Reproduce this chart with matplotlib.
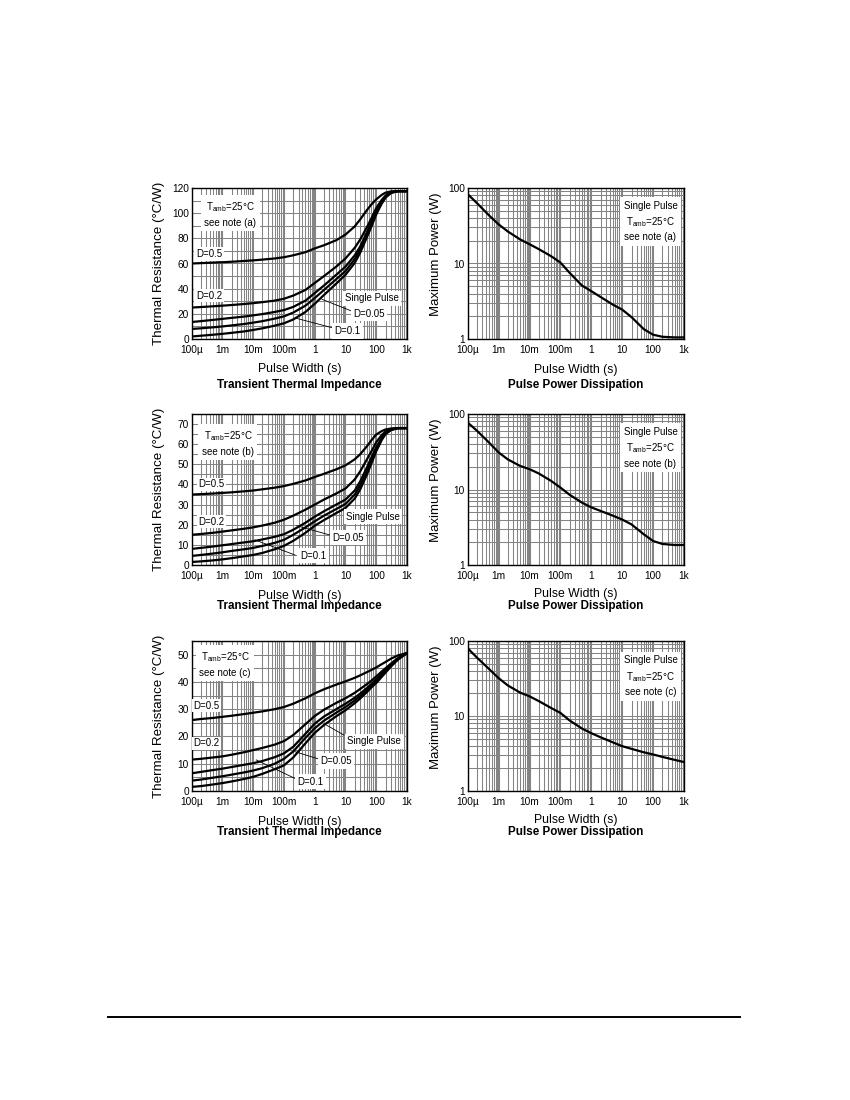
import matplotlib
matplotlib.use("Agg")
import matplotlib.pyplot as plt
from matplotlib.ticker import LogLocator, MultipleLocator, FixedLocator, NullFormatter
from matplotlib.lines import Line2D

plt.rcParams['font.family'] = ['Liberation Sans', 'DejaVu Sans']
plt.rcParams['mathtext.fontset'] = 'custom'
plt.rcParams['mathtext.rm'] = 'Liberation Sans'
plt.rcParams['mathtext.it'] = 'Liberation Sans'

# ---------------- data ----------------
x_tick_vals = [1e-4, 1e-3, 1e-2, 1e-1, 1, 10, 100, 1000]
x_tick_labels = ["100µ", "1m", "10m", "100m", "1", "10", "100", "1k"]

# Transient thermal impedance (pulse width in seconds)
zth_x = [1e-4, 2e-4, 5e-4, 1e-3, 2e-3, 5e-3, 1e-2, 2e-2, 5e-2, 0.1, 0.2, 0.5, 1, 2, 5,
         10, 20, 30, 50, 70, 100, 150, 200, 300, 500, 1000]
duty_labels = ["D=0.5", "D=0.2", "D=0.1", "D=0.05", "Single Pulse"]

zth_a_d05 = [60, 60.3, 60.7, 61, 61.4, 62, 62.5, 63.1, 64, 65, 66.5, 69, 72, 74.5, 78.5,
             83, 89.5, 95, 102.5, 107, 111, 114.5, 116.3, 117.3, 117.5, 117.5]
zth_a_d02 = [25, 25.4, 26, 26.5, 27, 27.8, 28.5, 29.3, 30.5, 32, 34.5, 39, 44.5, 50, 57.5,
             64, 72.5, 79, 89, 96, 104, 110.5, 114, 116.8, 117.5, 117.5]
zth_a_d01 = [13.5, 14.2, 15.2, 16, 16.8, 17.8, 18.8, 19.8, 21.5, 23, 25.5, 30.5, 36.5, 42.5, 51,
             57.5, 66.5, 73.5, 85, 93, 102, 109, 113.3, 116.5, 117.5, 117.5]
zth_a_d005 = [8, 8.5, 9.3, 10, 10.8, 11.9, 13, 14.2, 16.2, 18, 21, 26.5, 32.5, 39, 47.5,
              54, 63.5, 71, 83, 91.5, 100.5, 108.3, 112.8, 116.3, 117.5, 117.5]
zth_a_sp = [2, 2.6, 3.4, 4.1, 4.9, 6, 7.2, 8.5, 10.6, 12.5, 15.5, 21.5, 28, 35, 44,
            51, 60.5, 68.5, 81, 89.5, 99, 107.5, 112.3, 116, 117.5, 117.5]

zth_b_d05 = [35, 35.2, 35.5, 35.8, 36.1, 36.6, 37, 37.6, 38.4, 39.2, 40.3, 42, 43.7, 45.3, 47.5,
             49.5, 52.5, 55, 59, 62, 64.8, 66.5, 67.3, 67.8, 68, 68]
zth_b_d02 = [15, 15.4, 16, 16.6, 17.2, 18, 18.7, 19.6, 21, 22.5, 24.5, 27.5, 30, 32.5, 35.5,
             38, 42.5, 46.5, 52.5, 56.5, 61, 64.5, 66.3, 67.5, 68, 68]
zth_b_d01 = [8, 8.5, 9.2, 9.8, 10.4, 11.2, 11.8, 12.7, 14, 15.3, 17.5, 21, 24, 26.7, 30,
             32.5, 37, 41.5, 48.5, 53.5, 58.5, 63, 65.5, 67.2, 68, 68]
zth_b_d005 = [4.5, 5, 5.7, 6.3, 7, 7.8, 8.5, 9.5, 11, 12.5, 15, 18.7, 21.7, 24.5, 27.8,
              30.3, 35, 39.5, 46.5, 52, 57.5, 62.5, 65.2, 67.1, 68, 68]
zth_b_sp = [1.5, 1.8, 2.3, 2.8, 3.4, 4.3, 5, 6, 7.8, 9.5, 12, 16, 19.5, 22.3, 25.8,
            28.3, 33, 37.5, 45, 50.5, 56.5, 62, 65, 67, 68, 68]

zth_c_d05 = [26, 26.4, 26.8, 27.2, 27.6, 28.2, 28.7, 29.2, 30, 30.8, 32, 34, 35.8, 37.3, 39,
             40.2, 41.5, 42.4, 43.6, 44.4, 45.3, 46.5, 47.3, 48.5, 49.7, 50.6]
zth_c_d02 = [11.5, 11.8, 12.3, 12.7, 13.3, 14.2, 15, 15.8, 17, 18.3, 20.5, 24.5, 27.5, 29.8, 32.3,
             34, 36, 37.4, 39.2, 40.5, 42, 43.8, 45, 46.7, 48.7, 50.6]
zth_c_d01 = [6.5, 7, 7.7, 8.2, 8.8, 9.6, 10.2, 11, 12.4, 13.8, 16.2, 21, 24.7, 27.3, 30,
             32, 34.2, 35.7, 37.8, 39.3, 41, 43, 44.4, 46.3, 48.5, 50.6]
zth_c_d005 = [3.8, 4.2, 4.9, 5.4, 6, 6.8, 7.5, 8.4, 10, 11.8, 14.5, 19.5, 23, 25.8, 28.7,
              30.8, 33.2, 34.8, 37, 38.6, 40.3, 42.4, 44, 46, 48.3, 50.6]
zth_c_sp = [1.5, 1.8, 2.4, 2.9, 3.5, 4.4, 5.2, 6.3, 8, 9.4, 12.3, 17.5, 21.3, 24.2, 27.4,
            29.6, 32.2, 33.9, 36.3, 38, 39.6, 41.8, 43.4, 45.6, 48.1, 50.6]

# Pulse power dissipation
pwr_x = [1e-4, 2e-4, 5e-4, 1e-3, 2e-3, 5e-3, 1e-2, 2e-2, 5e-2, 0.1, 0.2, 0.5, 1, 2, 5,
         10, 20, 50, 100, 200, 500, 1000]
pwr_a = [83, 63, 43, 33, 26.5, 20.8, 18, 15.5, 12.5, 10.3, 7.5, 5.1, 4.3, 3.6, 2.85,
         2.45, 1.95, 1.35, 1.14, 1.07, 1.05, 1.05]
pwr_b = [77, 60, 41.5, 31, 25, 20.5, 18.6, 16.3, 13, 10.6, 8.5, 6.7, 5.8, 5.2, 4.5,
         4.0, 3.45, 2.55, 2.08, 1.9, 1.84, 1.84]
pwr_c = [80, 60, 42, 32, 25.5, 20.5, 18.3, 15.8, 12.8, 11, 8.7, 6.8, 5.9, 5.2, 4.45,
         3.96, 3.65, 3.28, 3.07, 2.85, 2.6, 2.43]

notes = ["a", "b", "c"]
zth_sets = [
    [zth_a_d05, zth_a_d02, zth_a_d01, zth_a_d005, zth_a_sp],
    [zth_b_d05, zth_b_d02, zth_b_d01, zth_b_d005, zth_b_sp],
    [zth_c_d05, zth_c_d02, zth_c_d01, zth_c_d005, zth_c_sp],
]
pwr_sets = [pwr_a, pwr_b, pwr_c]
zth_ylim = [120, 75, 55]
zth_yticks = [list(range(0, 121, 20)), list(range(0, 71, 10)), list(range(0, 51, 10))]
zth_yminor = [10, 5, 5]

# ---------------- layout ----------------
W, H = 850, 1100
fig = plt.figure(figsize=(8.5, 11), dpi=100)

rows = [  # (top px, bottom px)
    (188, 339),
    (414, 565),
    (641, 791),
]
left_x = (191.7, 407)
right_x = (467.7, 684)
xlabel_off = [-30, -31, -30.5]
xlabel_off_r = [-31, -29.5, -29.5]
title_off = [-46.5, -41.5, -40.5]

# label placement (axes fraction)
lbl = [
    dict(tamb=(0.18, 0.874, 0.781), d05=(0.019, 0.563), d02=(0.019, 0.287),
         sp=(0.836, 0.27), sp_lead=None,
         d005=(0.824, 0.166), d005_lead=((0.605, 0.263), (0.75, 0.181)),
         d01=(0.722, 0.053), d01_lead=((0.481, 0.139), (0.657, 0.073)),
         r=(0.845, 0.867, 0.788, 0.689)),
    dict(tamb=(0.168, 0.85, 0.762), d05=(0.031, 0.534), d02=(0.031, 0.287),
         sp=(0.842, 0.32), sp_lead=None,
         d005=(0.726, 0.181), d005_lead=((0.488, 0.26), (0.658, 0.192)),
         d01=(0.563, 0.062), d01_lead=((0.294, 0.166), (0.48, 0.066)),
         r=(0.845, 0.866, 0.788, 0.688)),
    dict(tamb=(0.155, 0.9, 0.795), d05=(0.008, 0.569), d02=(0.008, 0.318),
         sp=(0.847, 0.333), sp_lead=((0.619, 0.445), (0.707, 0.373)),
         d005=(0.67, 0.2), d005_lead=((0.48, 0.262), (0.604, 0.207)),
         d01=(0.55, 0.062), d01_lead=((0.3, 0.207), (0.478, 0.085)),
         r=(0.845, 0.854, 0.775, 0.675)),
]

GRID = '#848484'
white = dict(facecolor='white', edgecolor='none', pad=1.2)
TXT = 7.0
TICK = 7.3
tamb_txt = r"T$_{\mathregular{amb}}$=25°C"


def make_axes(xr, yr):
    x0, x1 = xr
    t, b = yr
    return fig.add_axes([x0 / W, 1 - b / H, (x1 - x0) / W, (b - t) / H])


def style_common(ax):
    ax.set_xscale('log')
    ax.set_xlim(1e-4, 1e3)
    ax.xaxis.set_major_locator(FixedLocator(x_tick_vals))
    ax.xaxis.set_minor_locator(LogLocator(base=10, subs=range(2, 10), numticks=20))
    ax.xaxis.set_minor_formatter(NullFormatter())
    ax.set_xticklabels(x_tick_labels)
    ax.tick_params(which='both', length=0, labelsize=TICK)
    ax.tick_params(axis='x', pad=4)
    ax.tick_params(axis='y', pad=2)
    ax.grid(axis='x', which='major', color=GRID, lw=1.5)
    ax.grid(axis='x', which='minor', color=GRID, lw=0.75)
    ax.grid(axis='y', which='both', color=GRID, lw=0.75)
    ax.set_axisbelow(True)
    for s in ax.spines.values():
        s.set_linewidth(1.0)
        s.set_color('black')
        s.set_zorder(5)


for i in range(3):
    top, bot = rows[i]
    hpx = bot - top
    L = lbl[i]

    # ---- left: transient thermal impedance ----
    ax = make_axes(left_x, rows[i])
    style_common(ax)
    ax.set_ylim(0, zth_ylim[i])
    ax.yaxis.set_major_locator(FixedLocator(zth_yticks[i]))
    ax.yaxis.set_minor_locator(MultipleLocator(zth_yminor[i]))
    for series in zth_sets[i]:
        ax.plot(zth_x, series, color='black', lw=1.6, zorder=3, solid_capstyle='round')
    ax.set_ylabel("Thermal Resistance (°C/W)", fontsize=9.6)
    ax.yaxis.set_label_coords(-27 / (left_x[1] - left_x[0]), 0.5)
    ax.text(0.5, xlabel_off[i] / hpx, "Pulse Width (s)", transform=ax.transAxes,
            ha='center', va='center', fontsize=8.8)
    ax.text(0.5, title_off[i] / hpx, "Transient Thermal Impedance", transform=ax.transAxes,
            ha='center', va='center', fontsize=8.4, fontweight='bold')

    tx, ty1, ty2 = L['tamb']
    ax.text(tx, (ty1 + ty2) / 2, tamb_txt + "\nsee note (%s)" % notes[i], transform=ax.transAxes,
            ha='center', va='center', multialignment='center', fontsize=TXT, linespacing=1.45,
            bbox=dict(facecolor='white', edgecolor='none', pad=2.5), zorder=6)
    ax.text(L['d05'][0], L['d05'][1], duty_labels[0], transform=ax.transAxes,
            ha='left', va='center', fontsize=TXT, bbox=white, zorder=6)
    ax.text(L['d02'][0], L['d02'][1], duty_labels[1], transform=ax.transAxes,
            ha='left', va='center', fontsize=TXT, bbox=white, zorder=6)
    for key, lab in (('sp', duty_labels[4]), ('d005', duty_labels[3]), ('d01', duty_labels[2])):
        lead = L[key + '_lead']
        if lead is not None:
            ax.add_line(Line2D([lead[0][0], lead[1][0]], [lead[0][1], lead[1][1]],
                               transform=ax.transAxes, color='black', lw=0.6, zorder=6))
        ax.text(L[key][0], L[key][1], lab, transform=ax.transAxes,
                ha='center', va='center', fontsize=TXT,
                bbox=dict(facecolor='white', edgecolor='none', pad=1.8), zorder=7)

    # ---- right: pulse power dissipation ----
    ax2 = make_axes(right_x, rows[i])
    style_common(ax2)
    ax2.set_yscale('log')
    ax2.set_ylim(1, 100)
    ax2.yaxis.set_major_locator(FixedLocator([1, 10, 100]))
    ax2.yaxis.set_minor_locator(LogLocator(base=10, subs=range(2, 10), numticks=10))
    ax2.yaxis.set_minor_formatter(NullFormatter())
    ax2.set_yticklabels(["1", "10", "100"])
    ax2.tick_params(which='both', length=0, labelsize=TICK)
    ax2.plot(pwr_x, pwr_sets[i], color='black', lw=1.6, zorder=3)
    ax2.set_ylabel("Maximum Power (W)", fontsize=9.5)
    ax2.yaxis.set_label_coords(-26 / (right_x[1] - right_x[0]), 0.56)
    ax2.text(0.5, xlabel_off_r[i] / hpx, "Pulse Width (s)", transform=ax2.transAxes,
             ha='center', va='center', fontsize=8.8)
    ax2.text(0.5, title_off[i] / hpx, "Pulse Power Dissipation", transform=ax2.transAxes,
             ha='center', va='center', fontsize=8.4, fontweight='bold')
    rx, r1, r2, r3 = L['r']
    ax2.text(rx, (r1 + r3) / 2,
             "Single Pulse\n" + tamb_txt + "\nsee note (%s)" % notes[i],
             transform=ax2.transAxes, ha='center', va='center', multialignment='center',
             fontsize=TXT, linespacing=1.45,
             bbox=dict(facecolor='white', edgecolor='none', pad=2.5), zorder=6)

# bottom rule
fig.add_artist(Line2D([108 / W, 740 / W], [1 - 1017 / H, 1 - 1017 / H],
                      color='black', lw=1.4))

fig.savefig("out.png", dpi=100, facecolor='white')
